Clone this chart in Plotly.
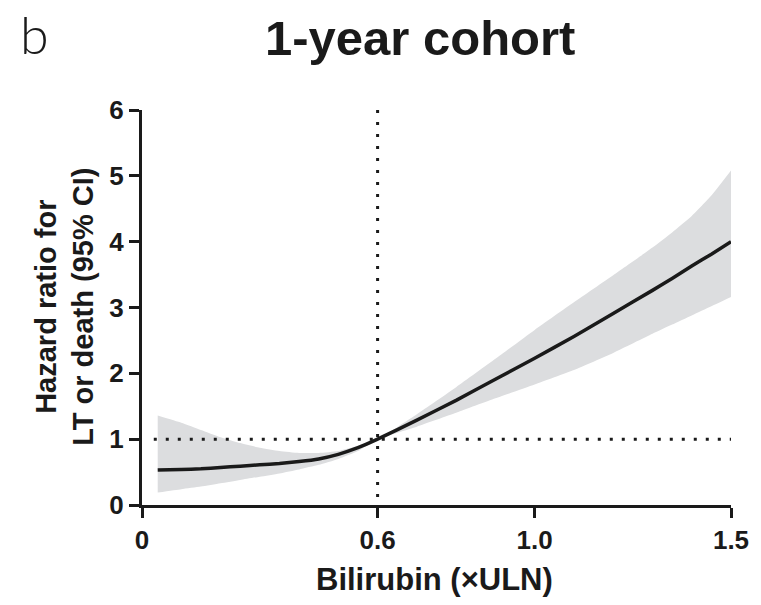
import plotly.graph_objects as go

# Bilirubin (xULN) grid and hazard-ratio estimates with 95% CI
bilirubin = [0.04, 0.1, 0.15, 0.2, 0.25, 0.3, 0.35, 0.4, 0.45, 0.5, 0.55, 0.6,
             0.7, 0.8, 0.9, 1.0, 1.1, 1.2, 1.3, 1.35, 1.4, 1.45, 1.5]
hr_mean = [0.53, 0.54, 0.55, 0.57, 0.59, 0.61, 0.63, 0.66, 0.70, 0.77, 0.87, 1.0,
           1.29, 1.59, 1.91, 2.23, 2.56, 2.91, 3.26, 3.44, 3.63, 3.81, 4.0]
hr_upper = [1.36, 1.25, 1.14, 1.03, 0.94, 0.87, 0.82, 0.79, 0.79, 0.82, 0.90, 1.0,
            1.38, 1.79, 2.22, 2.66, 3.08, 3.49, 3.91, 4.14, 4.39, 4.70, 5.08]
hr_lower = [0.19, 0.24, 0.28, 0.33, 0.38, 0.43, 0.48, 0.54, 0.61, 0.70, 0.82, 1.0,
            1.19, 1.40, 1.62, 1.83, 2.05, 2.31, 2.60, 2.74, 2.88, 3.02, 3.16]

x_ticks = [0, 0.6, 1.0, 1.5]
x_tick_text = ["0", "0.6", "1.0", "1.5"]
y_ticks = [0, 1, 2, 3, 4, 5, 6]

cutoff_x = 0.6      # vertical reference line
cutoff_y = [6, 0]
ref_hr = 1.0        # horizontal reference line (HR = 1)
ref_hr_x = [0.03, 1.5]

FONT = "Liberation Sans, Arial, Helvetica, sans-serif"
INK = "#1a1a1a"
BAND = "#dcdddf"
SMOOTH = dict(shape="spline", smoothing=0.5)

fig = go.Figure()

# 95% CI band: lower edge, then upper edge filled down to it
fig.add_trace(go.Scatter(
    x=bilirubin, y=hr_lower, mode="lines",
    line=dict(width=0, color=BAND, **SMOOTH), hoverinfo="skip", showlegend=False,
))
fig.add_trace(go.Scatter(
    x=bilirubin, y=hr_upper, mode="lines", fill="tonexty", fillcolor=BAND,
    line=dict(width=0, color=BAND, **SMOOTH), hoverinfo="skip", showlegend=False,
))

# reference lines
fig.add_trace(go.Scatter(
    x=ref_hr_x, y=[ref_hr, ref_hr], mode="lines",
    line=dict(color=INK, width=3, dash="3px,9px"), showlegend=False,
))
fig.add_trace(go.Scatter(
    x=[cutoff_x, cutoff_x], y=cutoff_y, mode="lines",
    line=dict(color=INK, width=3, dash="3px,9px"), showlegend=False,
))

# hazard ratio curve
fig.add_trace(go.Scatter(
    x=bilirubin, y=hr_mean, mode="lines",
    line=dict(color=INK, width=3.5, **SMOOTH),
    showlegend=False,
))

axis_common = dict(
    showgrid=False, zeroline=False, showline=True, linecolor=INK, linewidth=3,
    ticks="outside", ticklen=10, tickwidth=3, tickcolor=INK,
    tickfont=dict(family=FONT, size=26, color=INK, weight=700),
)

fig.update_xaxes(range=[0, 1.5], tickvals=x_ticks, ticktext=x_tick_text, **axis_common)
fig.update_yaxes(range=[0, 6], tickvals=y_ticks, **axis_common)

W, H = 761, 605
L, R, T, B = 142, 24, 110, 100
pw, ph = W - L - R, H - T - B


def px(xp, yp):
    return (xp - L) / pw, (H - B - yp) / ph


ann = []
tx, ty = px(423, 38)
ann.append(dict(text="1-year cohort", x=tx, y=ty, xref="paper", yref="paper",
                showarrow=False, xanchor="center", yanchor="middle",
                font=dict(family=FONT, size=49, color=INK, weight=700)))
bx, by = px(33, 34)
ann.append(dict(text="b", x=bx, y=by, xref="paper", yref="paper",
                showarrow=False, xanchor="center", yanchor="middle",
                font=dict(family="Lato, Roboto, sans-serif", size=52, color=INK, weight=300)))
xx, xy = px(437, 579)
ann.append(dict(text="Bilirubin (×ULN)", x=xx, y=xy, xref="paper", yref="paper",
                showarrow=False, xanchor="center", yanchor="middle",
                font=dict(family=FONT, size=31, color=INK, weight=700)))
yx, yy = px(64, 307)
ann.append(dict(text="Hazard ratio for<br>LT or death (95% CI)", x=yx, y=yy,
                xref="paper", yref="paper", textangle=-90,
                showarrow=False, xanchor="center", yanchor="middle",
                font=dict(family=FONT, size=29, color=INK, weight=700)))

fig.update_layout(
    width=W, height=H,
    margin=dict(l=L, r=R, t=T, b=B),
    paper_bgcolor="white", plot_bgcolor="white",
    annotations=ann,
)

fig.write_html("out.html")
